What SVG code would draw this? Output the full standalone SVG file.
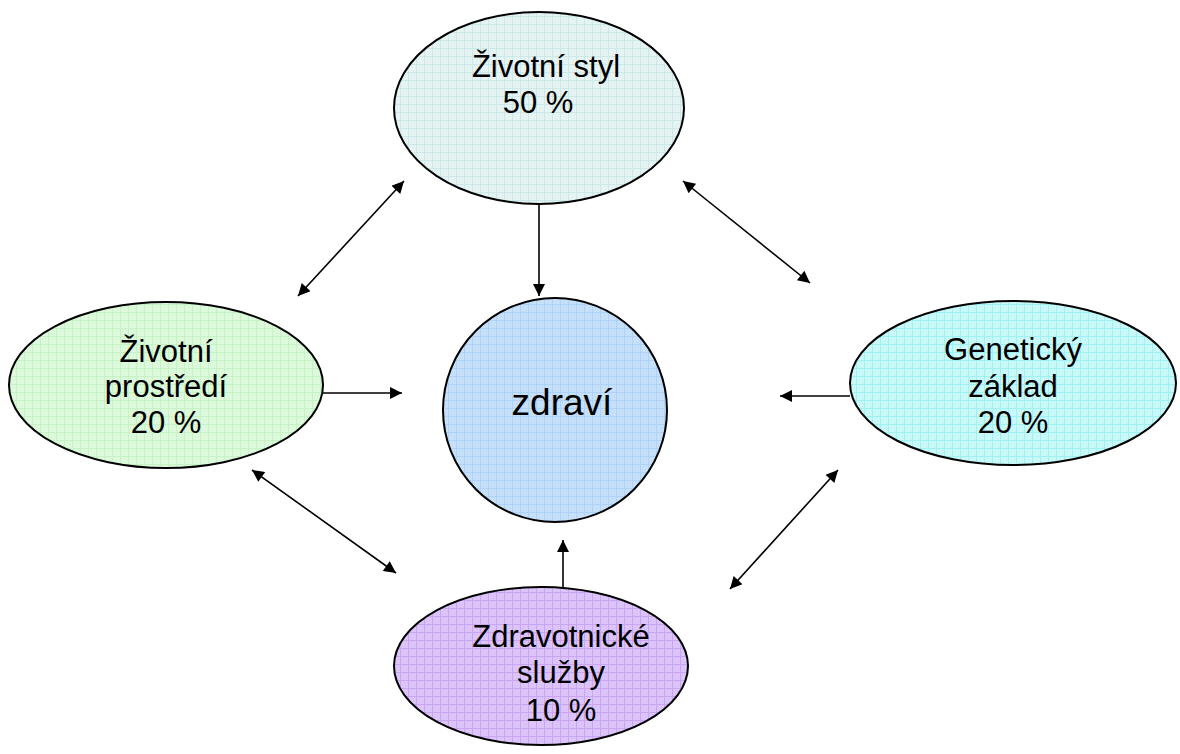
<svg xmlns="http://www.w3.org/2000/svg" width="1180" height="754" viewBox="0 0 1180 754">
<style>
.n{stroke:#000;stroke-width:2}
.t{font-family:"Liberation Sans",Arial,sans-serif;font-size:31px;fill:#000;text-anchor:middle}
.c{stroke:#000;stroke-width:1.6;fill:none}
</style>
<defs>
<pattern id="pTop" width="8" height="8" patternUnits="userSpaceOnUse"><rect width="8" height="8" fill="#e6f3f3"/><path d="M0 0.5H8M0.5 0V8" stroke="#cce8e8" stroke-width="1"/></pattern>
<pattern id="pLeft" width="8" height="8" patternUnits="userSpaceOnUse"><rect width="8" height="8" fill="#dcf9dc"/><path d="M0 0.5H8M0.5 0V8" stroke="#c6f2c6" stroke-width="1"/></pattern>
<pattern id="pRight" width="8" height="8" patternUnits="userSpaceOnUse"><rect width="8" height="8" fill="#c8f8f8"/><path d="M0 0.5H8M0.5 0V8" stroke="#9ef2f2" stroke-width="1"/></pattern>
<pattern id="pBot" width="8" height="8" patternUnits="userSpaceOnUse"><rect width="8" height="8" fill="#dcc4fa"/><path d="M0 0.5H8M0.5 0V8" stroke="#c9a6f2" stroke-width="1"/></pattern>
<pattern id="pCen" width="8" height="8" patternUnits="userSpaceOnUse"><rect width="8" height="8" fill="#c6e0fa"/><path d="M0 0.5H8M0.5 0V8" stroke="#afd2f8" stroke-width="1"/></pattern>
<marker id="ah" viewBox="0 0 10 10" refX="10" refY="5" markerWidth="15" markerHeight="12" markerUnits="userSpaceOnUse" orient="auto-start-reverse"><path d="M0 0L10 5L0 10Z" fill="#000"/></marker>
</defs>
<g id="connectors">
<line class="c" x1="539" y1="205" x2="539" y2="296" marker-end="url(#ah)"/>
<line class="c" x1="323" y1="393" x2="402" y2="393" marker-end="url(#ah)"/>
<line class="c" x1="850" y1="396" x2="780" y2="396" marker-end="url(#ah)"/>
<line class="c" x1="563" y1="588" x2="563" y2="540" marker-end="url(#ah)"/>
<line class="c" x1="298" y1="296" x2="404" y2="181" marker-start="url(#ah)" marker-end="url(#ah)"/>
<line class="c" x1="683" y1="181" x2="810" y2="283" marker-start="url(#ah)" marker-end="url(#ah)"/>
<line class="c" x1="252" y1="470" x2="396" y2="573" marker-start="url(#ah)" marker-end="url(#ah)"/>
<line class="c" x1="730" y1="589" x2="838" y2="470" marker-start="url(#ah)" marker-end="url(#ah)"/>
</g>
<g id="node-styl">
<ellipse class="n" cx="539" cy="108" rx="145" ry="96" fill="url(#pTop)"/>
<text class="t" x="546" y="77">Životní styl</text>
<text class="t" x="538" y="113">50 %</text>
</g>
<g id="node-prostredi">
<ellipse class="n" cx="166" cy="385" rx="157" ry="83" fill="url(#pLeft)"/>
<text class="t" x="166" y="362">Životní</text>
<text class="t" x="166" y="397">prostředí</text>
<text class="t" x="166" y="433">20 %</text>
</g>
<g id="node-geneticky">
<ellipse class="n" cx="1013" cy="383" rx="163" ry="82" fill="url(#pRight)"/>
<text class="t" x="1013" y="360">Genetický</text>
<text class="t" x="1013" y="397">základ</text>
<text class="t" x="1013" y="433">20 %</text>
</g>
<g id="node-sluzby">
<ellipse class="n" cx="541" cy="666" rx="147" ry="79" fill="url(#pBot)"/>
<text class="t" x="561" y="647">Zdravotnické</text>
<text class="t" x="561" y="683">služby</text>
<text class="t" x="561" y="721">10 %</text>
</g>
<g id="node-zdravi">
<ellipse class="n" cx="555" cy="410" rx="112" ry="112" fill="url(#pCen)"/>
<text class="t" x="562" y="415" style="font-size:37px">zdraví</text>
</g>
</svg>
